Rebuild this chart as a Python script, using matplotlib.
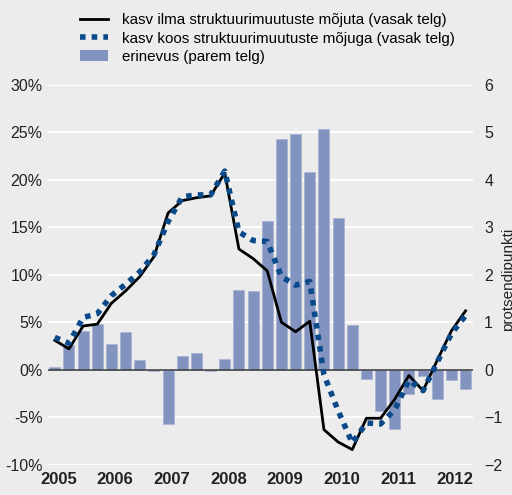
import numpy as np
import matplotlib.pyplot as plt
from matplotlib.patches import Patch
from matplotlib.lines import Line2D

plt.rcParams['font.family'] = ['Liberation Sans', 'DejaVu Sans']

years = ["2005", "2006", "2007", "2008", "2009", "2010", "2011", "2012"]

# quarterly data 2005Q1 .. 2012Q2
growth_without = [3.1, 2.2, 4.6, 4.8, 7.0, 8.3, 9.8, 11.9,
                  16.5, 17.8, 18.1, 18.3, 20.7, 12.7, 11.7, 10.4,
                  5.0, 4.0, 5.1, -6.3, -7.6, -8.4, -5.1, -5.1,
                  -3.1, -0.6, -2.2, 1.0, 4.1, 6.2]
growth_with = [3.4, 2.8, 5.5, 5.9, 7.8, 9.0, 10.3, 12.1,
               15.6, 18.2, 18.4, 18.4, 20.9, 14.5, 13.6, 13.5,
               9.8, 8.9, 9.3, -0.5, -4.3, -7.7, -5.6, -5.7,
               -4.2, -1.1, -2.2, 0.8, 3.8, 5.7]
difference = [0.05, 0.52, 0.81, 0.97, 0.55, 0.79, 0.2, -0.02,
              -1.15, 0.3, 0.36, -0.02, 0.22, 1.68, 1.66, 3.14,
              4.86, 4.97, 4.17, 5.07, 3.19, 0.95, -0.2, -0.86,
              -1.25, -0.51, -0.14, -0.61, -0.21, -0.4]

bg = "#ebeceb"
bar_col = "#8393c0"
blue = "#0a4a8a"

x = np.arange(len(difference))

fig = plt.figure(figsize=(5.12, 4.95), dpi=100, facecolor=bg)
ax = fig.add_axes([0.094, 0.061, 0.83, 0.768])
ax.set_facecolor(bg)
ax2 = ax.twinx()

# bars on the right axis, drawn behind the lines
ax2.set_zorder(1)
ax.set_zorder(2)
ax.patch.set_visible(False)

ax2.bar(x, difference, width=0.78, color=bar_col, edgecolor="#a9b4d4", linewidth=0.6, zorder=3)
ax2.set_ylim(-2, 6)
ax2.set_yticks(range(-2, 7))
for v in range(-2, 7):
    ax2.axhline(v, color="white", linewidth=1.4, zorder=1)
ax2.axhline(0, color="#444444", linewidth=1.2, zorder=4)

ax.plot(x, growth_without, color="black", linewidth=2, zorder=3)
ax.plot(x, growth_with, color=blue, linewidth=4, linestyle=(0, (1, 1.1)), zorder=4)
ax.set_ylim(-10, 30)
ax.set_yticks(range(-10, 31, 5))
ax.set_yticklabels([f"{v}%" for v in range(-10, 31, 5)])
ax.set_xlim(-0.47, 29.53)
ax.set_xticks(np.arange(len(years)) * 4 + 0.25)
ax.set_xticklabels(years, fontweight="bold", fontsize=12)

for a in (ax, ax2):
    for s in a.spines.values():
        s.set_visible(False)
    a.tick_params(length=0, labelsize=11.5, colors="#222222")
ax.tick_params(axis="x", labelsize=12, pad=5)
ax.tick_params(axis="y", pad=4)
ax2.tick_params(axis="y", pad=8)

fig.text(0.993, 0.435, "protsendipunkti", rotation=90, va="center", ha="center",
         fontsize=11, color="#222222")

handles = [
    Line2D([], [], color="black", linewidth=2),
    Line2D([], [], color=blue, linewidth=4, linestyle=(0, (1, 1.1))),
    Patch(facecolor=bar_col),
]
labels = ["kasv ilma struktuurimuutuste mõjuta (vasak telg)",
          "kasv koos struktuurimuutuste mõjuga (vasak telg)",
          "erinevus (parem telg)"]
fig.legend(handles, labels, loc="upper left", bbox_to_anchor=(80 / 512, 1 - 13 / 495),
           frameon=False, fontsize=10.9, handlelength=1.85, handletextpad=0.95,
           labelspacing=0.3, borderpad=0, borderaxespad=0)

fig.savefig("out.png", dpi=100, facecolor=bg)
